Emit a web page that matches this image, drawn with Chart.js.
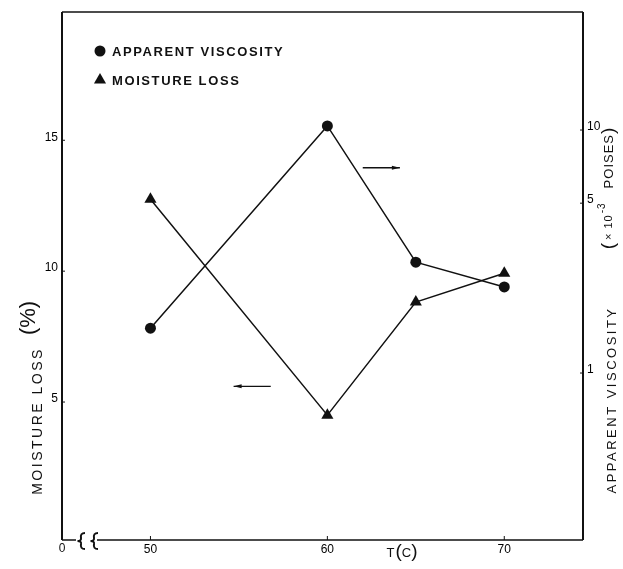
<!DOCTYPE html>
<html>
<head>
<meta charset="utf-8">
<script src="https://cdn.jsdelivr.net/npm/chart.js@4.4.0/dist/chart.umd.min.js"></script>
<style>
  html, body { margin: 0; padding: 0; background: #fff; }
</style>
</head>
<body>
<canvas id="chart" width="623" height="569"></canvas>
<script>
const temperatures = [50, 60, 65, 70];
const viscosity = [1.53, 10.4, 2.86, 2.26];     // x 10^-3 poises (right, log axis)
const moistureLoss = [12.75, 4.5, 8.82, 9.92];  // % (left axis)

const xTicks = [50, 60, 70];
const moistureTicks = [5, 10, 15];
const viscosityTicks = [1, 5, 10];

const FONT = '"Liberation Sans", Arial, Helvetica, sans-serif';
const INK = '#111';

function line(ctx, x1, y1, x2, y2) {
    ctx.beginPath();
    ctx.moveTo(x1, y1);
    ctx.lineTo(x2, y2);
    ctx.stroke();
}

function drawMarker(ctx, style, x, y, r) {
    ctx.beginPath();
    if (style === 'triangle') {
        let rad = 0;
        ctx.moveTo(x + Math.sin(rad) * r, y - Math.cos(rad) * r);
        rad += Math.PI * 2 / 3;
        ctx.lineTo(x + Math.sin(rad) * r, y - Math.cos(rad) * r);
        rad += Math.PI * 2 / 3;
        ctx.lineTo(x + Math.sin(rad) * r, y - Math.cos(rad) * r);
        ctx.closePath();
    } else {
        ctx.arc(x, y, r, 0, Math.PI * 2);
    }
    ctx.fill();
}

// little curly break mark on the T axis
function breakMark(ctx, cx, cy) {
    ctx.beginPath();
    ctx.moveTo(cx + 4, cy - 8);
    ctx.quadraticCurveTo(cx - 1, cy - 8, cx, cy - 3);
    ctx.quadraticCurveTo(cx + 0.5, cy, cx - 3.5, cy);
    ctx.quadraticCurveTo(cx + 0.5, cy, cx, cy + 3);
    ctx.quadraticCurveTo(cx - 1, cy + 8, cx + 4, cy + 8);
    ctx.stroke();
}

// Pieces of text laid out one after the other (x in the text direction)
function drawPieces(ctx, pieces, cx, cy) {
    let total = 0;
    pieces.forEach(p => {
        ctx.font = p.font;
        p.w = ctx.measureText(p.text).width + (p.gap || 0);
        total += p.w;
    });
    let x = cx - total / 2;
    pieces.forEach(p => {
        ctx.font = p.font;
        ctx.fillText(p.text, x, cy + (p.dy || 0));
        x += p.w;
    });
}

const framePlugin = {
    id: 'frame',
    afterDraw(chart) {
        const { ctx, chartArea: a, scales } = chart;
        ctx.save();
        ctx.strokeStyle = INK;
        ctx.fillStyle = INK;

        // box
        ctx.lineWidth = 2;
        line(ctx, a.left, a.top, a.left, a.bottom);
        line(ctx, a.right, a.top, a.right, a.bottom);
        ctx.lineWidth = 1.5;
        line(ctx, a.left, a.top, a.right, a.top);
        line(ctx, a.left, a.bottom, a.left + 14, a.bottom);
        line(ctx, a.left + 35, a.bottom, a.right, a.bottom);
        ctx.lineWidth = 2;
        breakMark(ctx, a.left + 19, a.bottom + 1);
        breakMark(ctx, a.left + 32, a.bottom + 1);

        // small inward tick marks
        ctx.lineWidth = 1;
        xTicks.forEach(v => {
            const px = scales.x.getPixelForValue(v);
            line(ctx, px, a.bottom, px, a.bottom - 4);
        });
        moistureTicks.forEach(v => {
            const py = scales.y.getPixelForValue(v);
            line(ctx, a.left, py, a.left + 3, py);
        });
        viscosityTicks.forEach(v => {
            const py = scales.y2.getPixelForValue(v);
            line(ctx, a.right, py, a.right - 3, py);
        });

        // "0" at the origin of the broken axis
        ctx.font = '12px ' + FONT;
        ctx.textAlign = 'center';
        ctx.textBaseline = 'top';
        ctx.fillText('0', a.left, a.bottom + 3);

        // x title
        ctx.textAlign = 'left';
        ctx.textBaseline = 'middle';
        drawPieces(ctx, [
            { text: 'T', font: '13px ' + FONT, gap: 1 },
            { text: '(', font: '19px ' + FONT, dy: -1 },
            { text: 'C', font: '13px ' + FONT },
            { text: ')', font: '19px ' + FONT, dy: -1 }
        ], 402, 553);

        // left title
        ctx.save();
        ctx.translate(38, 421);
        ctx.rotate(-Math.PI / 2);
        ctx.textAlign = 'center';
        ctx.font = '14px ' + FONT;
        ctx.letterSpacing = '2.5px';
        ctx.fillText('MOISTURE LOSS', 0, 0);
        ctx.restore();
        ctx.save();
        ctx.translate(29, 318);
        ctx.rotate(-Math.PI / 2);
        ctx.textAlign = 'center';
        ctx.font = '22px ' + FONT;
        ctx.fillText('(%)', 0, 0);
        ctx.restore();

        // right title
        ctx.save();
        ctx.translate(612, 400);
        ctx.rotate(-Math.PI / 2);
        ctx.textAlign = 'center';
        ctx.font = '13px ' + FONT;
        ctx.letterSpacing = '2.5px';
        ctx.fillText('APPARENT VISCOSITY', 0, 0);
        ctx.restore();
        ctx.save();
        ctx.translate(609, 188);
        ctx.rotate(-Math.PI / 2);
        ctx.textAlign = 'left';
        ctx.letterSpacing = '1px';
        drawPieces(ctx, [
            { text: '(', font: '19px ' + FONT, gap: 2 },
            { text: '\u00d7 10', font: '11px ' + FONT, gap: 1 },
            { text: '-3', font: '10px ' + FONT, dy: -7, gap: 14 },
            { text: 'POISES', font: '13px ' + FONT },
            { text: ')', font: '19px ' + FONT }
        ], 0, 0);
        ctx.restore();

        // legend
        ctx.textAlign = 'left';
        ctx.textBaseline = 'middle';
        ctx.font = 'bold 13px ' + FONT;
        ctx.letterSpacing = '1.6px';
        chart.data.datasets.forEach((ds, i) => {
            const y = 51 + i * 29;
            drawMarker(ctx, ds.pointStyle, 100, y, ds.pointRadius);
            ctx.fillText(ds.label, 112, y + 1);
        });
        ctx.letterSpacing = '0px';

        // arrows telling which axis each curve belongs to
        ctx.lineWidth = 1.3;
        const arrows = [
            { from: 62.0, to: 64.1, y: 13.95, axis: 'y' },
            { from: 56.8, to: 54.7, y: 5.6, axis: 'y' }
        ];
        arrows.forEach(ar => {
            const x1 = scales.x.getPixelForValue(ar.from);
            const x2 = scales.x.getPixelForValue(ar.to);
            const py = scales[ar.axis].getPixelForValue(ar.y);
            const dir = Math.sign(x2 - x1);
            line(ctx, x1, py, x2, py);
            ctx.beginPath();
            ctx.moveTo(x2, py);
            ctx.lineTo(x2 - dir * 8, py - 2);
            ctx.lineTo(x2 - dir * 8, py + 2);
            ctx.closePath();
            ctx.fill();
        });

        ctx.restore();
    }
};

const tickFont = { family: FONT, size: 12 };

new Chart(document.getElementById('chart'), {
    type: 'line',
    data: {
        datasets: [
            {
                label: 'APPARENT VISCOSITY',
                data: temperatures.map((t, i) => ({ x: t, y: viscosity[i] })),
                yAxisID: 'y2',
                borderColor: INK,
                backgroundColor: INK,
                borderWidth: 1.5,
                pointStyle: 'circle',
                pointRadius: 5.5,
                pointBorderWidth: 0,
                tension: 0
            },
            {
                label: 'MOISTURE LOSS',
                data: temperatures.map((t, i) => ({ x: t, y: moistureLoss[i] })),
                yAxisID: 'y',
                borderColor: INK,
                backgroundColor: INK,
                borderWidth: 1.5,
                pointStyle: 'triangle',
                pointRadius: 7,
                pointBorderWidth: 0,
                tension: 0
            }
        ]
    },
    options: {
        responsive: false,
        animation: false,
        layout: { padding: { top: 12, left: 0, right: 0, bottom: 0 } },
        plugins: { legend: { display: false }, tooltip: { enabled: false } },
        scales: {
            x: {
                type: 'linear',
                min: 45,
                max: 74.45,
                grid: { display: false, drawTicks: false },
                border: { display: false },
                afterBuildTicks: s => { s.ticks = xTicks.map(v => ({ value: v })); },
                afterFit: s => { s.height = 29; },
                ticks: { font: tickFont, color: '#000', padding: 2, maxRotation: 0 }
            },
            y: {
                type: 'linear',
                position: 'left',
                min: -0.27,
                max: 19.9,
                grid: { display: false, drawTicks: false },
                border: { display: false },
                afterBuildTicks: s => { s.ticks = moistureTicks.map(v => ({ value: v })); },
                afterFit: s => { s.width = 62; },
                ticks: { font: tickFont, color: '#000', padding: 4, labelOffset: -3 }
            },
            y2: {
                type: 'logarithmic',
                position: 'right',
                min: 0.2055,
                max: 30.6,
                grid: { display: false, drawTicks: false },
                border: { display: false },
                afterBuildTicks: s => { s.ticks = viscosityTicks.map(v => ({ value: v })); },
                afterFit: s => { s.width = 40; },
                ticks: { font: tickFont, color: '#000', padding: 4, labelOffset: -3,
                         callback: v => String(v) }
            }
        }
    },
    plugins: [framePlugin]
});
</script>
</body>
</html>
